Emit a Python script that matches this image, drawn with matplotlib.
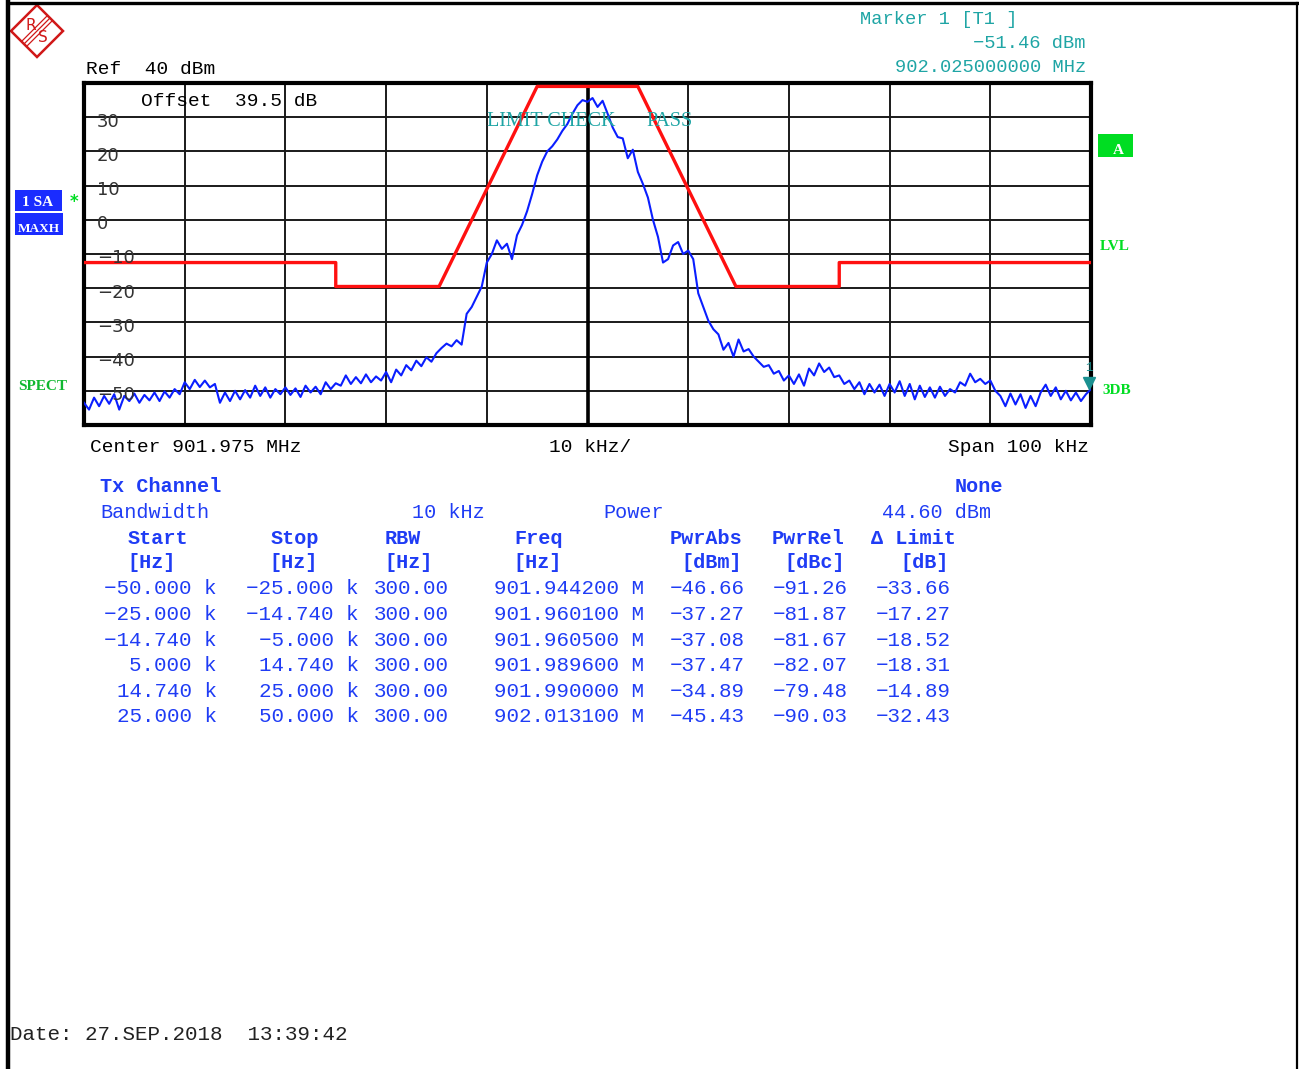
import numpy as np
import matplotlib
matplotlib.use("Agg")
import matplotlib.pyplot as plt
from matplotlib.patches import Polygon, Rectangle

# ---- trace data (max hold) ----
# offset from center [kHz] sampled every 0.5 kHz, level [dBm]
trace_dbm = [
    -53.5, -55.5, -52.0, -54.5, -51.5, -53.8, -51.0, -55.5, -51.5, -53.0,   # -50 .. -45.5
    -50.8, -53.5, -51.2, -52.8, -50.5, -53.0, -50.2, -52.0, -49.5, -51.0,   # -45 .. -40.5
    -47.5, -49.5, -46.8, -48.9, -47.0, -49.0, -48.0, -53.5, -50.5, -53.0,   # -40 .. -35.5
    -50.0, -52.5, -49.8, -52.0, -48.5, -51.5, -49.0, -52.0, -49.5, -51.0,   # -35 .. -30.5
    -49.0, -51.2, -49.3, -51.8, -48.5, -50.5, -48.8, -51.0, -47.5, -49.5,   # -30 .. -25.5
    -47.8, -48.5, -45.5, -48.0, -46.0, -47.8, -45.2, -47.5, -45.8, -47.0,   # -25 .. -20.5
    -44.5, -47.5, -43.8, -45.5, -42.5, -44.0, -41.2, -42.8, -40.2, -41.5,   # -20 .. -15.5
    -39.0, -37.5, -36.2, -37.0, -35.2, -36.5, -27.5, -25.5, -22.5, -19.5,   # -15 .. -10.5
    -12.5, -10.0, -6.0, -8.5, -7.0, -11.5, -4.5, -1.5, 2.5, 7.5,             # -10 .. -5.5
    13.0, 17.0, 20.0, 21.5, 23.5, 26.0, 28.0, 31.0, 33.5, 35.0,             # -5 .. -0.5
    34.5, 35.6, 33.0, 34.8, 31.0, 27.0, 24.2, 23.8, 18.0, 20.5,             # 0 .. 4.5
    14.0, 10.5, 6.5, 0.0, -5.0, -12.5, -11.5, -7.5, -6.5, -10.0,            # 5 .. 9.5
    -9.0, -11.5, -21.5, -25.5, -29.5, -32.0, -33.5, -38.0, -36.0, -40.0,    # 10 .. 14.5
    -35.0, -38.5, -37.8, -40.0, -41.5, -43.0, -42.5, -45.0, -44.2, -47.0,   # 15 .. 19.5
    -45.5, -48.0, -45.2, -48.5, -43.5, -45.5, -42.0, -44.5, -43.2, -46.0,   # 20 .. 24.5
    -45.5, -48.0, -47.0, -49.5, -47.5, -51.0, -48.0, -50.5, -48.2, -51.5,   # 25 .. 29.5
    -48.0, -50.5, -47.2, -51.5, -48.0, -52.5, -48.5, -51.8, -49.0, -52.0,   # 30 .. 34.5
    -48.8, -51.5, -49.5, -50.5, -47.5, -48.5, -45.0, -47.5, -46.5, -48.0,   # 35 .. 39.5
    -47.0, -50.0, -51.5, -54.5, -50.8, -54.0, -51.0, -55.0, -51.5, -54.5,   # 40 .. 44.5
    -50.5, -48.2, -51.5, -49.0, -52.5, -50.0, -52.8, -50.5, -53.0, -51.0,   # 45 .. 49.5
    -49.5,                                                                  # 50
]
trace_khz = np.linspace(-50, 50, len(trace_dbm))

# limit line
limit_khz = [-50, -25, -25, -14.74, -5, 5, 14.74, 25, 25, 50]
limit_dbm = [-12.5, -12.5, -19.5, -19.5, 39, 39, -19.5, -19.5, -12.5, -12.5]

ytick_vals = [30, 20, 10, 0, -10, -20, -30, -40, -50]

# ---- ACP table ----
col_start = ["-50.000 k", "-25.000 k", "-14.740 k", "5.000 k", "14.740 k", "25.000 k"]
col_stop = ["-25.000 k", "-14.740 k", "-5.000 k", "14.740 k", "25.000 k", "50.000 k"]
col_rbw = ["300.00", "300.00", "300.00", "300.00", "300.00", "300.00"]
col_freq = ["901.944200 M", "901.960100 M", "901.960500 M",
            "901.989600 M", "901.990000 M", "902.013100 M"]
col_pwrabs = ["-46.66", "-37.27", "-37.08", "-37.47", "-34.89", "-45.43"]
col_pwrrel = ["-91.26", "-81.87", "-81.67", "-82.07", "-79.48", "-90.03"]
col_dlimit = ["-33.66", "-17.27", "-18.52", "-18.31", "-14.89", "-32.43"]

MONO = "Liberation Mono"
SERIF = "Liberation Serif"
TEAL = "#1fa5a5"
GREEN = "#00dd22"
TBLUE = "#1f3cf5"

W, H = 1299, 1069
fig = plt.figure(figsize=(W / 100, H / 100), dpi=100)
fig.patch.set_facecolor("white")

# ---- main diagram ----
ax = fig.add_axes([84 / W, 1 - 425 / H, 1007 / W, 342 / H])
ax.set_xlim(-50, 50)
ax.set_ylim(-60, 40)
ax.set_xticks(np.arange(-40, 50, 10))
ax.set_yticks(np.arange(-50, 40, 10))
ax.tick_params(length=0, labelbottom=False, labelleft=False)
ax.grid(True, color="#1a1a1a", linewidth=1.4)
ax.axvline(0, color="black", linewidth=2.6, zorder=2)
for sp in ax.spines.values():
    sp.set_linewidth(3.0)
    sp.set_color("black")

ax.plot(limit_khz, limit_dbm, color="#ff1010", linewidth=2.4, zorder=3)
ax.plot(trace_khz, trace_dbm, color="#0a1eff", linewidth=1.5, zorder=4)

ytr = ax.get_yaxis_transform()
for v in ytick_vals:
    lab = str(v).replace("-", "\u2212")
    ax.text(0.013, v - 1.3, lab, transform=ytr, fontsize=13,
            family="DejaVu Sans", color="#333333", va="center", ha="left", zorder=5)

# marker 1 at +50 kHz
ax.plot([49.8], [-47.6], marker="v", markersize=9, color="#1a9090",
        clip_on=False, zorder=6)
ax.text(49.8, -45.0, "1", color="#1a9090", fontsize=9, family=MONO,
        ha="center", va="bottom", clip_on=False, zorder=6)

# ---- overlay in pixel coordinates ----
ov = fig.add_axes([0, 0, 1, 1])
ov.set_xlim(0, W)
ov.set_ylim(H, 0)
ov.axis("off")
ov.patch.set_alpha(0)

# outer frame
ov.plot([8.5, 8.5], [2, H], color="black", linewidth=3.2, clip_on=False)
ov.plot([8, 1298], [3, 3], color="black", linewidth=2.4, clip_on=False)
ov.plot([1297, 1297], [3, H], color="black", linewidth=1.6, clip_on=False)

# R&S logo
cx, cy, r = 37, 31, 26
ov.add_patch(Polygon([[cx, cy - r], [cx + r, cy], [cx, cy + r], [cx - r, cy]],
                     closed=True, fill=False, edgecolor="#d01818", linewidth=1.8))
for d in (-2.5, 0, 2.5):
    ov.plot([cx - 13 + d, cx + 13 + d], [cy + 13 + d, cy - 13 + d],
            color="#d01818", linewidth=0.9)
ov.text(cx - 6, cy - 6, "R", color="#d01818", fontsize=11, family="DejaVu Sans",
        ha="center", va="center")
ov.text(cx + 6, cy + 7, "S", color="#d01818", fontsize=11, family="DejaVu Sans",
        ha="center", va="center")

# header texts
ov.text(86, 69, "Ref  40 dBm", fontsize=14, family=MONO, va="center", ha="left")
ov.text(141, 101, "Offset  39.5 dB", fontsize=14, family=MONO, va="center", ha="left")
ov.text(860, 19, "Marker 1 [T1 ]", fontsize=13.5, family=MONO, color=TEAL,
        va="center", ha="left")
ov.text(1086, 43, "\u221251.46 dBm", fontsize=13.5, family=MONO, color=TEAL,
        va="center", ha="right")
ov.text(1086, 68, "902.025000000 MHz", fontsize=13.5, family=MONO, color=TEAL,
        va="center", ha="right")
ov.text(487, 121, "LIMIT CHECK", fontsize=14.5, family=SERIF, color=TEAL,
        va="center", ha="left")
ov.text(646, 121, "PASS", fontsize=14.5, family=SERIF, color=TEAL,
        va="center", ha="left")

# left side labels
ov.add_patch(Rectangle((15, 190), 47, 21, facecolor="#1a2cff", edgecolor="none"))
ov.text(38, 203, "1 SA", fontsize=11, family=SERIF, weight="bold", color="white",
        ha="center", va="center")
ov.add_patch(Rectangle((15, 213), 48, 22, facecolor="#1a2cff", edgecolor="none"))
ov.text(39, 229, "MAXH", fontsize=9.5, family=SERIF, weight="bold", color="white",
        ha="center", va="center")
ov.text(74, 202, "*", fontsize=12, color=GREEN, ha="center", va="center", weight="bold")
ov.text(18, 387, "SPECT", fontsize=11, family=SERIF, weight="bold", color="#10b830",
        ha="left", va="center")

# right side labels
ov.add_patch(Rectangle((1098, 134), 35, 23, facecolor=GREEN, edgecolor="none"))
ov.text(1118, 150, "A", fontsize=11, family=SERIF, weight="bold", color="white",
        ha="center", va="center")
ov.text(1100, 247, "LVL", fontsize=11, family=SERIF, weight="bold", color=GREEN,
        ha="left", va="center")
ov.text(1102, 391, "3DB", fontsize=11, family=SERIF, weight="bold", color=GREEN,
        ha="left", va="center")

# x axis annotations
ov.text(90, 448, "Center 901.975 MHz", fontsize=14, family=MONO, ha="left", va="center")
ov.text(590, 448, "10 kHz/", fontsize=14, family=MONO, ha="center", va="center")
ov.text(1089, 448, "Span 100 kHz", fontsize=14, family=MONO, ha="right", va="center")

# ACP table
ov.text(100, 486, "Tx Channel", fontsize=14.5, family=MONO, weight="bold",
        color=TBLUE, ha="left", va="center")
ov.text(1003, 486, "None", fontsize=14.5, family=MONO, weight="bold",
        color=TBLUE, ha="right", va="center")
ov.text(100, 512, "Bandwidth", fontsize=14.5, family=MONO, color=TBLUE,
        ha="left", va="center")
ov.text(448, 512, "10 kHz", fontsize=14.5, family=MONO, color=TBLUE,
        ha="center", va="center")
ov.text(634, 512, "Power", fontsize=14.5, family=MONO, color=TBLUE,
        ha="center", va="center")
ov.text(991, 512, "44.60 dBm", fontsize=14.5, family=MONO, color=TBLUE,
        ha="right", va="center")

head_names = ["Start", "Stop", "RBW", "Freq", "PwrAbs", "PwrRel", "\u0394 Limit"]
head_units = ["[Hz]", "[Hz]", "[Hz]", "[Hz]", "[dBm]", "[dBc]", "[dB]"]
head_x = [158, 295, 403, 539, 706, 808, 913]
unit_x = [152, 294, 409, 538, 712, 815, 925]
for name, ux, hx, unit in zip(head_names, unit_x, head_x, head_units):
    ov.text(hx, 538, name, fontsize=14.5, family=MONO, weight="bold",
            color=TBLUE, ha="center", va="center")
    ov.text(ux, 563, unit, fontsize=14.5, family=MONO, weight="bold",
            color=TBLUE, ha="center", va="center")

cols = [col_start, col_stop, col_rbw, col_freq, col_pwrabs, col_pwrrel, col_dlimit]
col_right = [217, 359, 449, 644, 745, 848, 951]
for col, xr in zip(cols, col_right):
    for i, s in enumerate(col):
        ov.text(xr, 589 + i * 25.6, s.replace("-", "\u2212"), fontsize=15,
                family=MONO, color=TBLUE, ha="right", va="center")

ov.text(10, 1035, "Date: 27.SEP.2018  13:39:42", fontsize=15, family=MONO,
        color="#222222", ha="left", va="center")

fig.savefig("out.png", dpi=100)
